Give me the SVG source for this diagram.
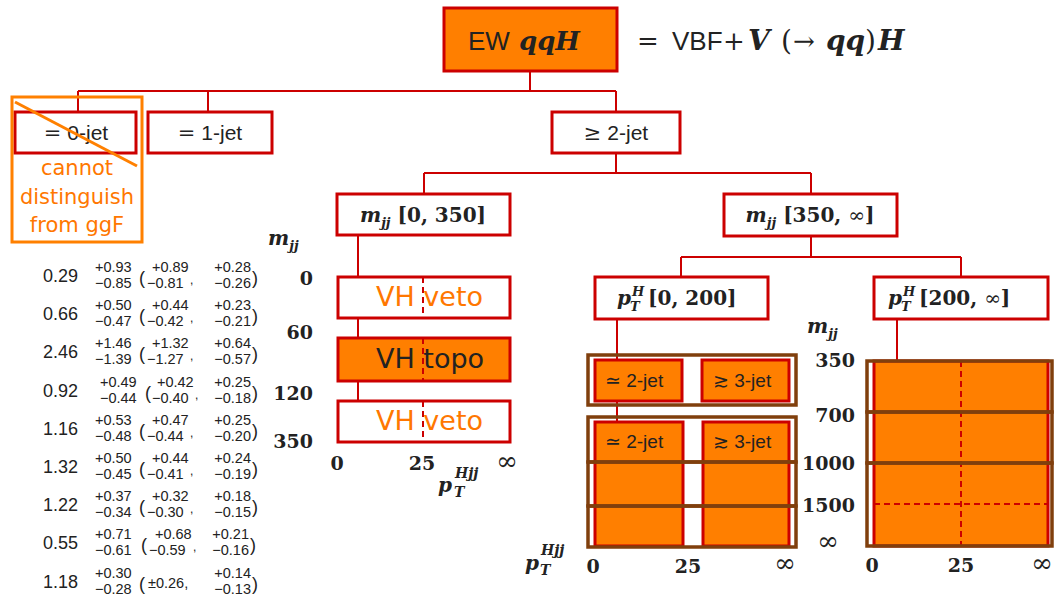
<svg xmlns="http://www.w3.org/2000/svg" width="1063" height="609" viewBox="0 0 1063 609">
<style>
.box{fill:#fff;stroke:#cc0000;stroke-width:3}
.obox{fill:#ff7f00;stroke:#cc0000;stroke-width:3}
.brown{fill:none;stroke:#803f0d;stroke-width:3.5}
.conn{fill:none;stroke:#cc0000;stroke-width:2}
.dash{fill:none;stroke:#cc0000;stroke-width:2;stroke-dasharray:6 4}
.sans{font-family:"Liberation Sans","DejaVu Sans",sans-serif;fill:#222}
.dv{font-family:"DejaVu Sans",sans-serif}
.mi{font-family:"DejaVu Serif",serif;font-weight:bold;font-style:italic;fill:#222}
.bf{font-family:"DejaVu Serif",serif;font-weight:bold;fill:#222}
.rm{font-family:"DejaVu Serif",serif;fill:#222}
.cv{font-family:"Liberation Sans",sans-serif;font-size:18px;fill:#222}
.ss{font-family:"Liberation Sans",sans-serif;font-size:14.5px;fill:#222}
.cm{font-family:"Liberation Sans",sans-serif;font-size:12px;fill:#222}
.par{font-family:"Liberation Sans",sans-serif;font-size:18px;fill:#222}
.or{fill:#ff7700}
</style>

<g id="connectors">
<path class="conn" d="M530 71V91M78 91H616M78 91V112M208 91V112M616 91V112M616 153V173M424 173H811M424 173V194M811 173V194M358 235V401M811 236V257M681 257H961M681 257V277M961 257V277M617 319V422M897 319V361"/>
</g>

<g id="root">
<rect class="obox" x="444" y="8" width="173" height="63"/>
<text x="468" y="50" class="sans" font-size="26">EW</text>
<text x="519" y="50" class="mi" font-size="26">qqH</text>
</g>

<g id="equation">
<text x="637" y="50" class="rm" font-size="26">=</text>
<text x="672" y="50" class="sans" font-size="26">VBF</text>
<text x="723" y="50" class="rm" font-size="26">+</text>
<text x="748" y="50" class="mi" font-size="28">V</text>
<text x="781" y="50" class="rm" font-size="28">(</text>
<text x="793" y="50" class="rm" font-size="26">→</text>
<text x="826" y="50" class="mi" font-size="28">qq</text>
<text x="865" y="50" class="rm" font-size="28">)</text>
<text x="878" y="50" class="mi" font-size="28">H</text>
</g>

<g id="jet0">
<rect class="box" x="15" y="112" width="121" height="41"/>
<text x="76" y="140" text-anchor="middle" class="sans" font-size="21"><tspan class="rm">=</tspan> 0-jet</text>
<rect x="12" y="97" width="130" height="145" fill="none" stroke="#ff8000" stroke-width="3"/>
<line x1="15" y1="102" x2="137" y2="166" stroke="#ff8000" stroke-width="3"/>
<g class="dv or" font-size="21" text-anchor="middle">
<text x="77" y="175">cannot</text>
<text x="77" y="204">distinguish</text>
<text x="77" y="232">from ggF</text>
</g>
</g>

<g id="jet1">
<rect class="box" x="148" y="112" width="124" height="41"/>
<text x="210" y="140" text-anchor="middle" class="sans" font-size="21"><tspan class="rm">=</tspan> 1-jet</text>
</g>

<g id="jet2">
<rect class="box" x="552" y="112" width="128" height="41"/>
<text x="616" y="140" text-anchor="middle" class="sans" font-size="21"><tspan class="rm">≥</tspan> 2-jet</text>
</g>

<g id="mjj-low">
<rect class="box" x="337" y="194" width="173" height="41"/>
<text x="423" y="222" text-anchor="middle" font-size="20"><tspan class="mi">m</tspan><tspan class="mi" font-size="13" dy="5">jj</tspan><tspan class="bf" dy="-5"> [0, 350]</tspan></text>
</g>

<g id="mjj-high">
<rect class="box" x="724" y="194" width="173" height="42"/>
<text x="810" y="222" text-anchor="middle" font-size="20"><tspan class="mi">m</tspan><tspan class="mi" font-size="13" dy="5">jj</tspan><tspan class="bf" dy="-5"> [350, </tspan><tspan class="rm">∞</tspan><tspan class="bf">]</tspan></text>
</g>

<g id="vh-veto-1">
<rect class="box" x="338" y="277" width="172" height="41"/>
<line class="dash" x1="423" y1="277" x2="423" y2="318"/>
<text x="376" y="306" class="dv or" font-size="27">VH veto</text>
</g>
<g id="vh-topo">
<rect class="obox" x="338" y="338" width="172" height="43"/>
<line class="dash" x1="423" y1="338" x2="423" y2="381"/>
<text x="376" y="368" class="dv" fill="#222" font-size="27">VH topo</text>
</g>
<g id="vh-veto-2">
<rect class="box" x="338" y="401" width="172" height="41"/>
<line class="dash" x1="423" y1="401" x2="423" y2="442"/>
<text x="376" y="430" class="dv or" font-size="27">VH veto</text>
</g>

<g id="axis-left">
<text x="268" y="245" font-size="20"><tspan class="mi">m</tspan><tspan class="mi" font-size="13" dy="5">jj</tspan></text>
<g class="bf" font-size="19" text-anchor="end">
<text x="313" y="285">0</text>
<text x="313" y="339">60</text>
<text x="313" y="400">120</text>
<text x="313" y="448">350</text>
</g>
<g class="bf" font-size="19" text-anchor="middle">
<text x="337" y="470">0</text>
<text x="422" y="470">25</text>
</g>
<text x="507" y="470" text-anchor="middle" class="rm" font-size="26">∞</text>
<text x="438" y="492" class="mi" font-size="20">p</text>
<text x="455" y="478" class="mi" font-size="14">Hjj</text>
<text x="454" y="497" class="mi" font-size="14">T</text>
</g>

<g id="pth-low">
<rect class="box" x="595" y="277" width="173" height="42"/>
<text x="617" y="305" class="mi" font-size="20">p</text>
<text x="632" y="296" class="mi" font-size="13">H</text>
<text x="630" y="311" class="mi" font-size="13">T</text>
<text x="648" y="305" class="bf" font-size="20">[0, 200]</text>
</g>

<g id="pth-high">
<rect class="box" x="874" y="277" width="174" height="42"/>
<text x="888" y="305" class="mi" font-size="20">p</text>
<text x="903" y="296" class="mi" font-size="13">H</text>
<text x="901" y="311" class="mi" font-size="13">T</text>
<text x="919" y="305" font-size="20"><tspan class="bf">[200, </tspan><tspan class="rm">∞</tspan><tspan class="bf">]</tspan></text>
</g>

<g id="bins-low">
<rect class="obox" x="595" y="360" width="87" height="41"/>
<rect class="obox" x="702" y="360" width="87" height="41"/>
<rect class="obox" x="595" y="422" width="88" height="124"/>
<rect class="obox" x="703" y="422" width="86" height="124"/>
<rect class="brown" x="588" y="355" width="208" height="50"/>
<rect class="brown" x="588" y="417" width="208" height="45"/>
<rect class="brown" x="588" y="462" width="208" height="44"/>
<rect class="brown" x="588" y="506" width="208" height="41"/>
<text x="605" y="387" class="sans" font-size="19"><tspan class="dv">≃</tspan> 2-jet</text>
<text x="713" y="387" class="sans" font-size="19"><tspan class="dv">≳</tspan> 3-jet</text>
<text x="605" y="448" class="sans" font-size="19"><tspan class="dv">≃</tspan> 2-jet</text>
<text x="713" y="448" class="sans" font-size="19"><tspan class="dv">≳</tspan> 3-jet</text>
</g>

<g id="axis-low">
<text x="525" y="570" class="mi" font-size="20">p</text>
<text x="541" y="555" class="mi" font-size="14">Hjj</text>
<text x="540" y="575" class="mi" font-size="14">T</text>
<g class="bf" font-size="19" text-anchor="middle">
<text x="593" y="573">0</text>
<text x="688" y="573">25</text>
</g>
<text x="785" y="572" text-anchor="middle" class="rm" font-size="26">∞</text>
</g>

<g id="axis-mjj-right">
<text x="807" y="333" font-size="20"><tspan class="mi">m</tspan><tspan class="mi" font-size="13" dy="5">jj</tspan></text>
<g class="bf" font-size="19" text-anchor="end">
<text x="855" y="367">350</text>
<text x="855" y="422">700</text>
<text x="855" y="470">1000</text>
<text x="855" y="512">1500</text>
</g>
<text x="828" y="550" text-anchor="middle" class="rm" font-size="26">∞</text>
</g>

<g id="bins-high">
<rect class="obox" x="874" y="361" width="174" height="185"/>
<line class="dash" x1="961" y1="361" x2="961" y2="546"/>
<line class="dash" x1="874" y1="504" x2="1048" y2="504"/>
<rect class="brown" x="867" y="361" width="185" height="51"/>
<rect class="brown" x="867" y="412" width="185" height="51"/>
<rect class="brown" x="867" y="463" width="185" height="83"/>
<g class="bf" font-size="19" text-anchor="middle">
<text x="872" y="572">0</text>
<text x="961" y="572">25</text>
</g>
<text x="1042" y="572" text-anchor="middle" class="rm" font-size="26">∞</text>
</g>

<g id="results-table">
<text x="43" y="282" class="cv">0.29</text><text x="95" y="272" class="ss">+0.93</text><text x="95" y="288" class="ss">−0.85</text><text x="139" y="284" class="par">(</text><text x="152" y="272" class="ss">+0.89</text><text x="147" y="288" class="ss">−0.81</text><text x="190" y="284" class="cm">,</text><text x="251" y="272" class="ss" text-anchor="end">+0.28</text><text x="251" y="288" class="ss" text-anchor="end">−0.26</text><text x="252" y="284" class="par">)</text>
<text x="43" y="320" class="cv">0.66</text><text x="95" y="310" class="ss">+0.50</text><text x="95" y="326" class="ss">−0.47</text><text x="139" y="322" class="par">(</text><text x="152" y="310" class="ss">+0.44</text><text x="147" y="326" class="ss">−0.42</text><text x="190" y="322" class="cm">,</text><text x="251" y="310" class="ss" text-anchor="end">+0.23</text><text x="251" y="326" class="ss" text-anchor="end">−0.21</text><text x="252" y="322" class="par">)</text>
<text x="43" y="358" class="cv">2.46</text><text x="95" y="348" class="ss">+1.46</text><text x="95" y="364" class="ss">−1.39</text><text x="139" y="360" class="par">(</text><text x="152" y="348" class="ss">+1.32</text><text x="147" y="364" class="ss">−1.27</text><text x="190" y="360" class="cm">,</text><text x="251" y="348" class="ss" text-anchor="end">+0.64</text><text x="251" y="364" class="ss" text-anchor="end">−0.57</text><text x="252" y="360" class="par">)</text>
<text x="43" y="397" class="cv">0.92</text><text x="100" y="387" class="ss">+0.49</text><text x="100" y="403" class="ss">−0.44</text><text x="145" y="399" class="par">(</text><text x="157" y="387" class="ss">+0.42</text><text x="152" y="403" class="ss">−0.40</text><text x="195" y="399" class="cm">,</text><text x="251" y="387" class="ss" text-anchor="end">+0.25</text><text x="251" y="403" class="ss" text-anchor="end">−0.18</text><text x="252" y="399" class="par">)</text>
<text x="43" y="435" class="cv">1.16</text><text x="95" y="425" class="ss">+0.53</text><text x="95" y="441" class="ss">−0.48</text><text x="139" y="437" class="par">(</text><text x="152" y="425" class="ss">+0.47</text><text x="147" y="441" class="ss">−0.44</text><text x="190" y="437" class="cm">,</text><text x="251" y="425" class="ss" text-anchor="end">+0.25</text><text x="251" y="441" class="ss" text-anchor="end">−0.20</text><text x="252" y="437" class="par">)</text>
<text x="43" y="473" class="cv">1.32</text><text x="95" y="463" class="ss">+0.50</text><text x="95" y="479" class="ss">−0.45</text><text x="139" y="475" class="par">(</text><text x="152" y="463" class="ss">+0.44</text><text x="147" y="479" class="ss">−0.41</text><text x="190" y="475" class="cm">,</text><text x="251" y="463" class="ss" text-anchor="end">+0.24</text><text x="251" y="479" class="ss" text-anchor="end">−0.19</text><text x="252" y="475" class="par">)</text>
<text x="43" y="511" class="cv">1.22</text><text x="95" y="501" class="ss">+0.37</text><text x="95" y="517" class="ss">−0.34</text><text x="139" y="513" class="par">(</text><text x="152" y="501" class="ss">+0.32</text><text x="147" y="517" class="ss">−0.30</text><text x="190" y="513" class="cm">,</text><text x="251" y="501" class="ss" text-anchor="end">+0.18</text><text x="251" y="517" class="ss" text-anchor="end">−0.15</text><text x="252" y="513" class="par">)</text>
<text x="43" y="549" class="cv">0.55</text><text x="95" y="539" class="ss">+0.71</text><text x="95" y="555" class="ss">−0.61</text><text x="141" y="551" class="par">(</text><text x="155" y="539" class="ss">+0.68</text><text x="149" y="555" class="ss">−0.59</text><text x="193" y="551" class="cm">,</text><text x="249" y="539" class="ss" text-anchor="end">+0.21</text><text x="249" y="555" class="ss" text-anchor="end">−0.16</text><text x="250" y="551" class="par">)</text>
<text x="43" y="588" class="cv">1.18</text><text x="95" y="578" class="ss">+0.30</text><text x="95" y="594" class="ss">−0.28</text><text x="139" y="590" class="par">(</text><text x="148" y="588" class="ss" font-size="15.5">±0.26,</text><text x="251" y="578" class="ss" text-anchor="end">+0.14</text><text x="251" y="594" class="ss" text-anchor="end">−0.13</text><text x="252" y="590" class="par">)</text>
</g>
</svg>
